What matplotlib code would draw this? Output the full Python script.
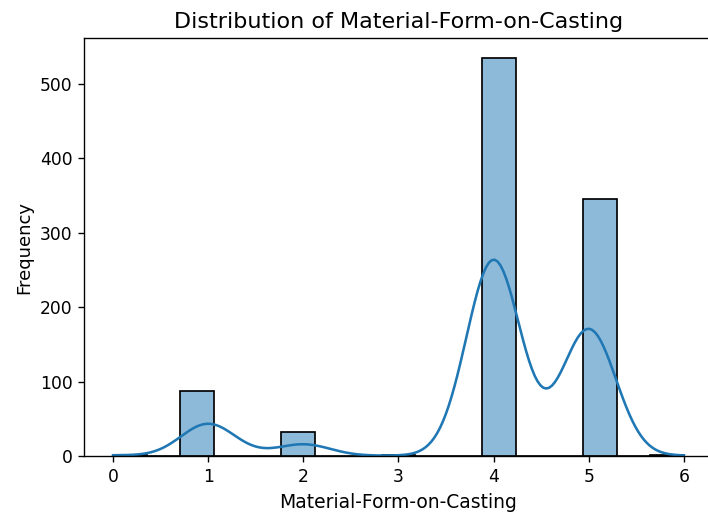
import numpy as np
import matplotlib
matplotlib.use("Agg")
import matplotlib.pyplot as plt
import seaborn as sns

# category values and how often each occurs
categories = [0, 1, 2, 3, 4, 5, 6]
counts = [2, 88, 32, 1, 535, 346, 1]

values = np.repeat(categories, counts)

s = 1.23  # the reference looks rendered a bit larger than 100 dpi
plt.rcParams["axes.linewidth"] = 0.8 * s
plt.rcParams["xtick.major.size"] = 3.5 * s
plt.rcParams["ytick.major.size"] = 3.5 * s
plt.rcParams["xtick.major.width"] = 0.8 * s
plt.rcParams["ytick.major.width"] = 0.8 * s
plt.rcParams["xtick.major.pad"] = 3.5 * s
plt.rcParams["ytick.major.pad"] = 3.5 * s

fig = plt.figure(figsize=(7.08, 5.2), dpi=100)
ax = fig.add_axes([0.1193, 0.123, 0.887, 0.804])
sns.histplot(values, bins=17, kde=True, ax=ax,
             line_kws={"linewidth": 1.5 * s}, linewidth=1.0 * s)
ax.set_title("Distribution of Material-Form-on-Casting", fontsize=16, pad=6 * s)
ax.set_xlabel("Material-Form-on-Casting", fontsize=13.5, labelpad=4 * s)
ax.set_ylabel("Frequency", fontsize=13, labelpad=4 * s)
ax.tick_params(labelsize=12.3)
fig.savefig("out.png", dpi=100)
